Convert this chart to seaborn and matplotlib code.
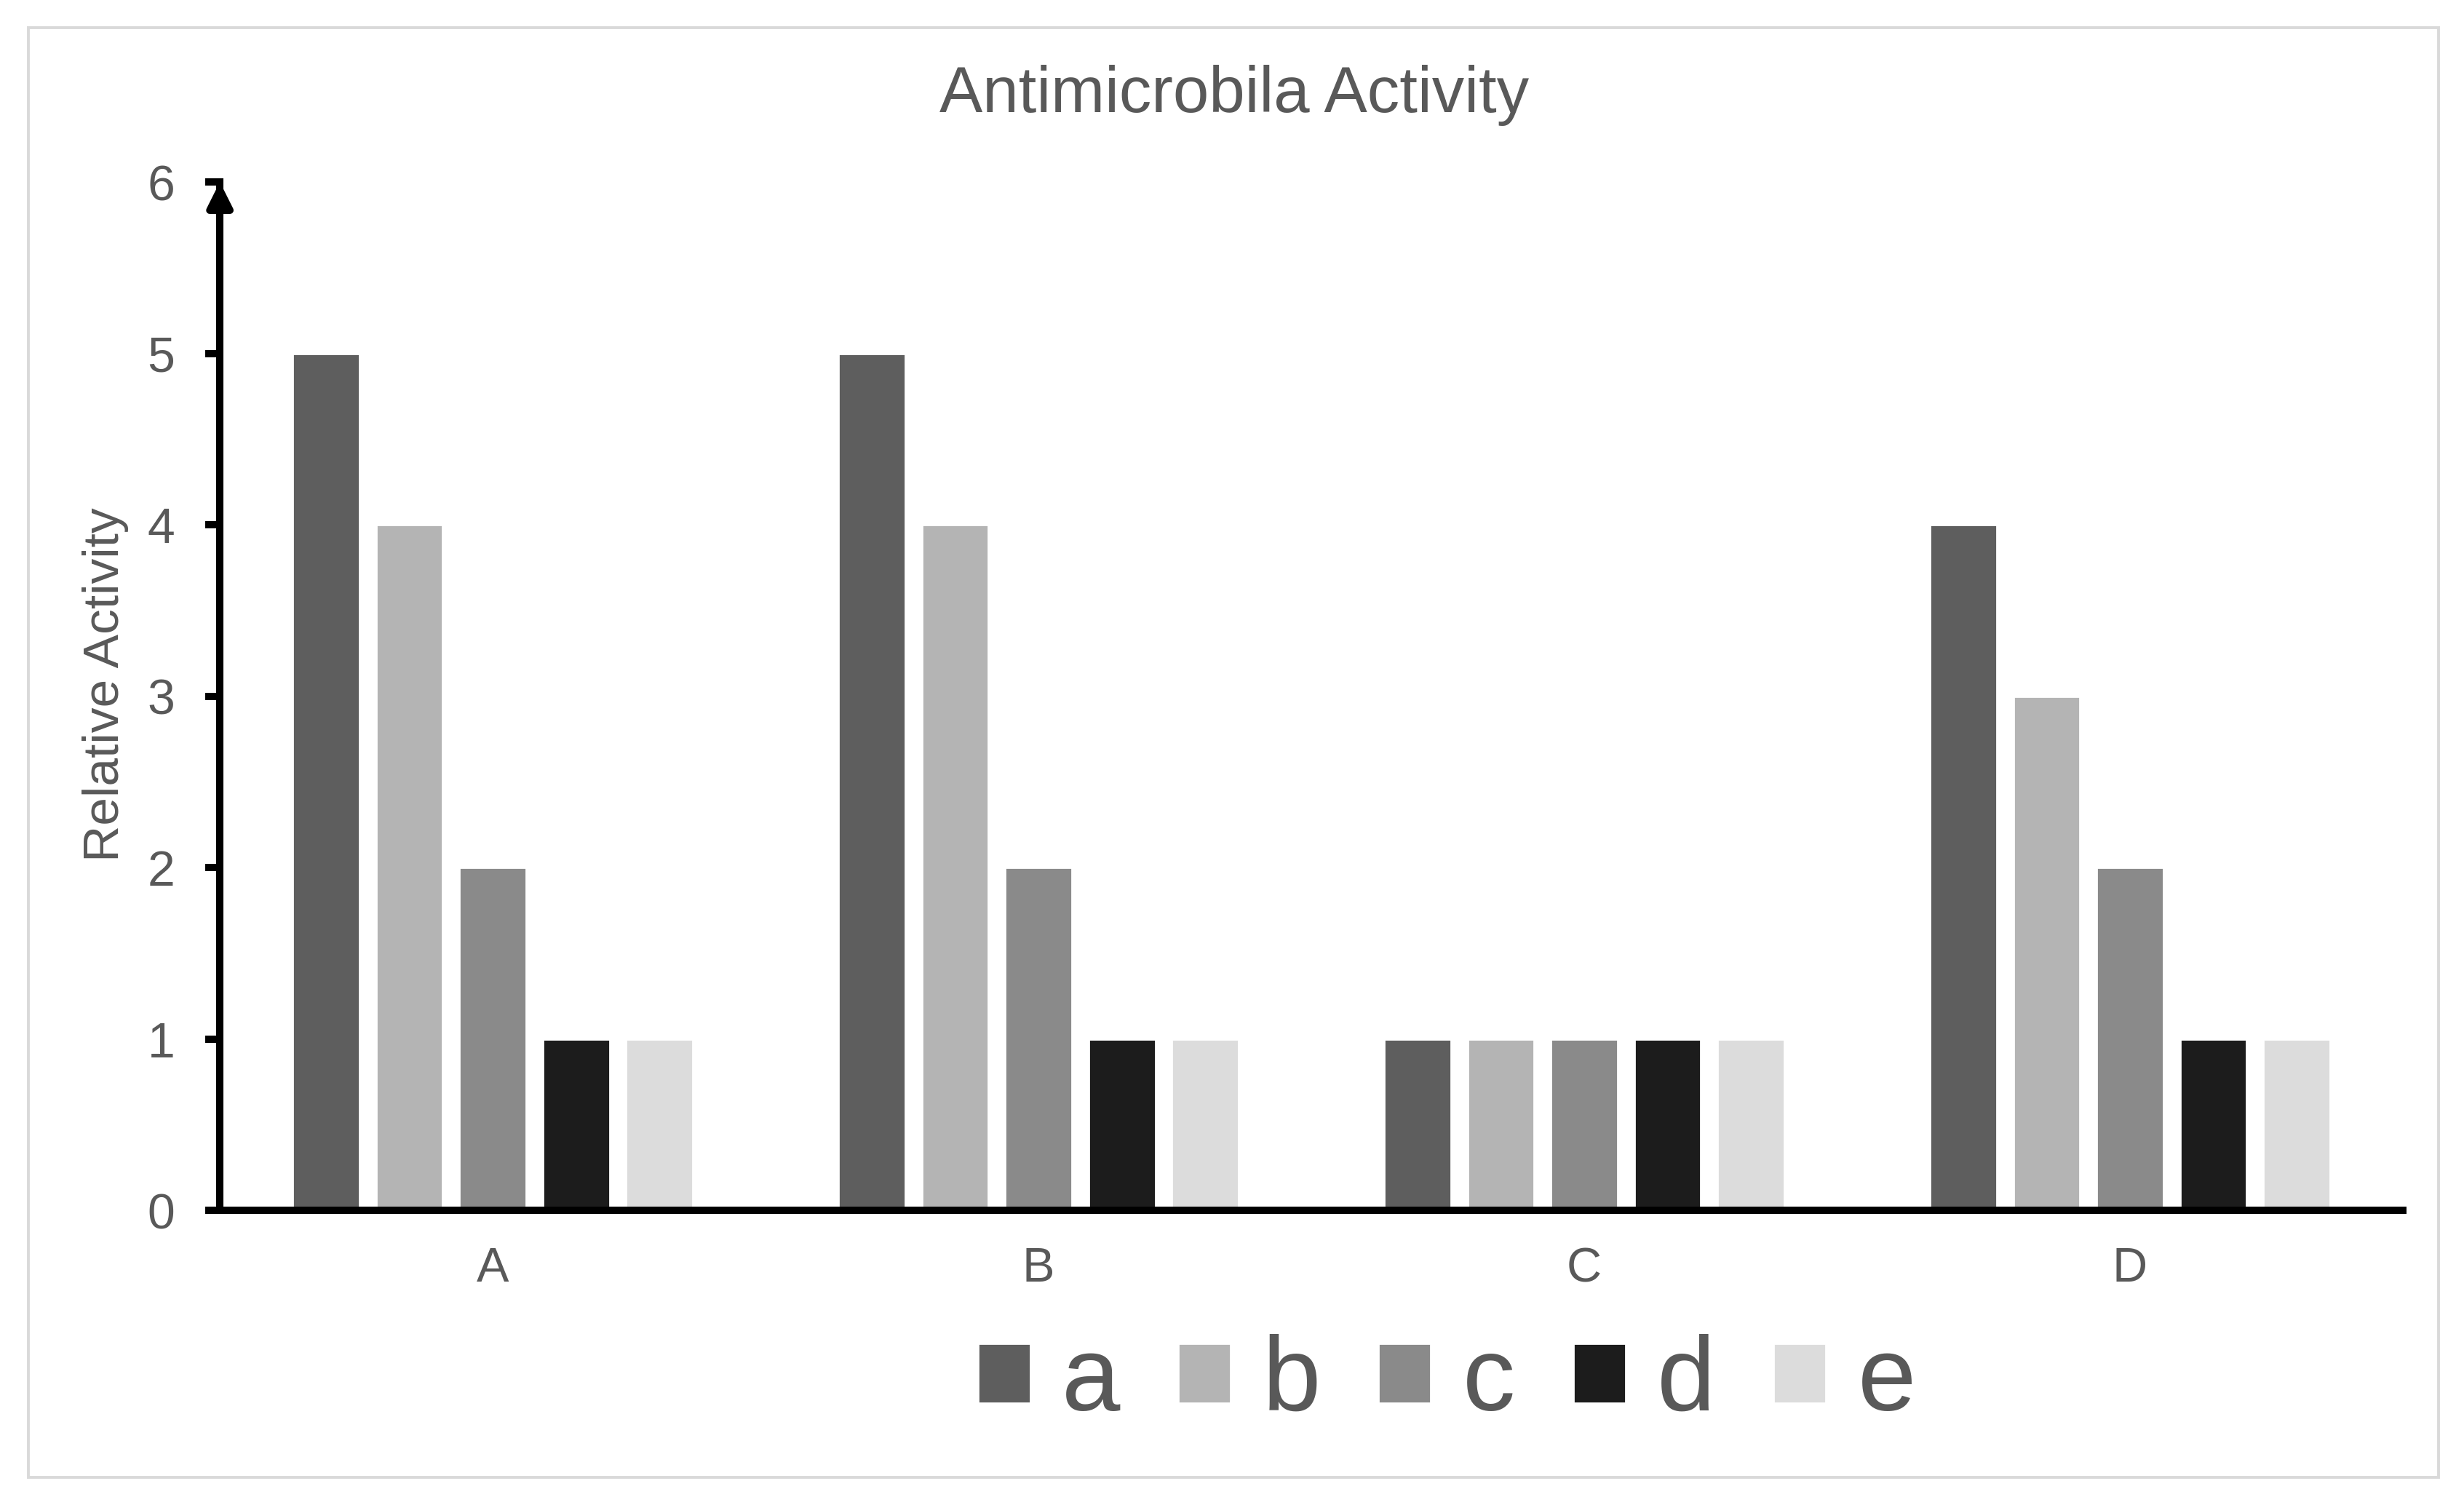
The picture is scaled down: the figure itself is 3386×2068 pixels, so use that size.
import numpy as np
import pandas as pd
import matplotlib
matplotlib.use("Agg")
import matplotlib.pyplot as plt
from matplotlib.patches import Rectangle
import seaborn as sns

# chart data
groups = ["A", "B", "C", "D"]
series = ["a", "b", "c", "d", "e"]
vals_a = [5, 5, 1, 4]
vals_b = [4, 4, 1, 3]
vals_c = [2, 2, 1, 2]
vals_d = [1, 1, 1, 1]
vals_e = [1, 1, 1, 1]
colors = ["#5e5e5e", "#b4b4b4", "#8a8a8a", "#1c1c1c", "#dcdcdc"]
y_ticks = [0, 1, 2, 3, 4, 5, 6]

# long-form table for seaborn
rows = []
for s, v in zip(series, [vals_a, vals_b, vals_c, vals_d, vals_e]):
    for g, val in zip(groups, v):
        rows.append({"group": g, "series": s, "value": val})
df = pd.DataFrame(rows)

sns.set_theme(style="white")
plt.rcParams["font.family"] = ["Liberation Sans", "DejaVu Sans"]
txt = "#595959"

fig = plt.figure(figsize=(16.935, 10.34), dpi=200)
ax = fig.add_axes([0.0892, 0.1958, 0.9749 - 0.0892, 0.8791 - 0.1958])

sns.barplot(data=df, x="group", y="value", hue="series", palette=colors,
            width=0.764, gap=0.2, saturation=1, ax=ax, legend=True)

ax.set_xlim(-0.5, 3.5)
ax.set_ylim(0, 6)
ax.set_yticks(y_ticks)
ax.set_xlabel("")
ax.set_ylabel("")

for side in ["top", "right"]:
    ax.spines[side].set_visible(False)
for side in ["left", "bottom"]:
    ax.spines[side].set_color("black")
    ax.spines[side].set_linewidth(3.6)

ax.tick_params(axis="y", direction="out", length=7.2, width=3.6, color="black",
               labelsize=24.5, labelcolor=txt, pad=15, left=True)
ax.tick_params(axis="x", length=0, labelsize=24, labelcolor=txt, pad=18)

# arrow head on top of the y axis
ax.annotate("", xy=(0, 1.0), xytext=(0, 0.97), xycoords="axes fraction",
            arrowprops=dict(arrowstyle="-|>,head_length=0.5,head_width=0.25",
                            color="black", lw=3.6, shrinkA=0, shrinkB=0,
                            mutation_scale=20),
            annotation_clip=False)

sns.move_legend(ax, "center", bbox_to_anchor=(0.587, 0.081),
                bbox_transform=fig.transFigure, ncol=5, frameon=False,
                fontsize=52, title=None, handlelength=0.5, handleheight=0.5,
                handletextpad=0.3, columnspacing=0.55, borderpad=0)
for t in ax.get_legend().get_texts():
    t.set_color(txt)

fig.text(0.5007, 0.9365, "Antimicrobila Activity", ha="center", va="center",
         fontsize=32, color=txt)
fig.text(0.0428, 0.545, "Relative Activity", ha="center", va="center",
         rotation=90, fontsize=25, color=txt)

# light outer frame
fig.patches.append(Rectangle((0.0115, 0.0184), 0.978, 0.963,
                             transform=fig.transFigure, fill=False,
                             edgecolor="#d9d9d9", linewidth=1.4))

fig.savefig("out.png", dpi=200)
